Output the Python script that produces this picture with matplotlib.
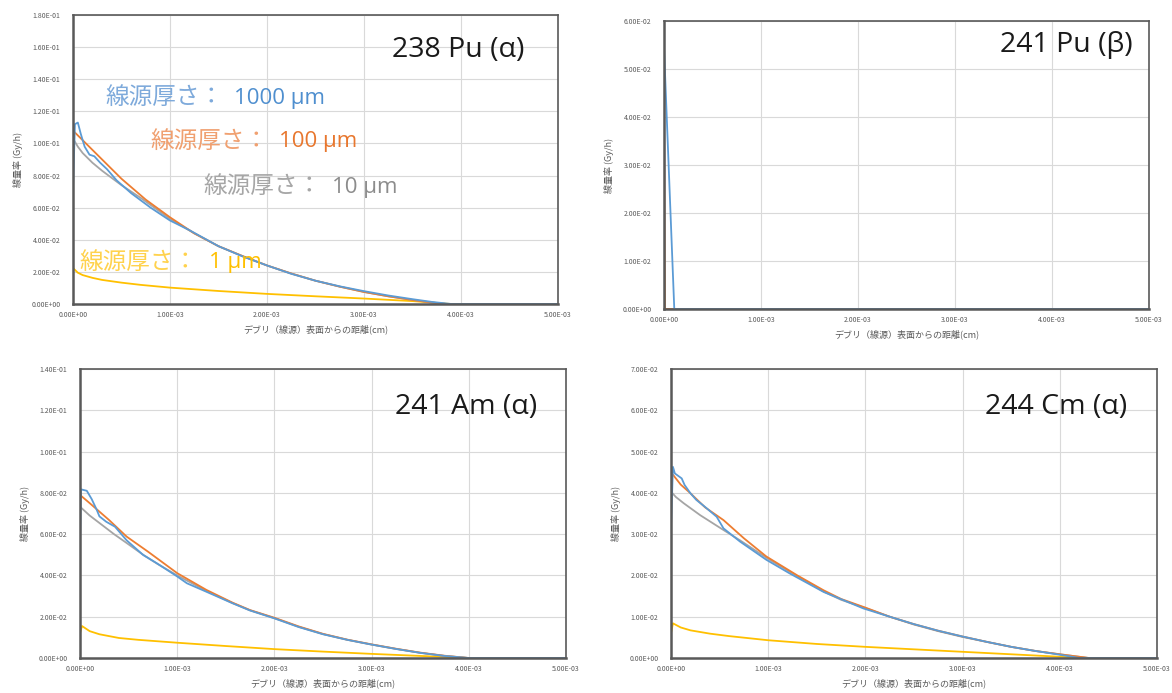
import matplotlib
matplotlib.use("Agg")
import matplotlib.pyplot as plt
from matplotlib.ticker import FuncFormatter, MultipleLocator

plt.rcParams['font.family'] = ['Noto Sans CJK JP', 'DejaVu Sans']

# ---- data: dose rate (Gy/h) vs distance from debris surface (cm) ----
# 238 Pu (alpha)
pu238_x_1000 = [0, 0.00002, 0.00005, 0.00008, 0.00012, 0.00017, 0.00022, 0.00028, 0.00035, 0.00045,
                0.0006, 0.0008, 0.001, 0.0012, 0.0015, 0.00175, 0.002, 0.00225, 0.0025, 0.00275,
                0.003, 0.00325, 0.0035, 0.0037, 0.0039, 0.005]
pu238_y_1000 = [0.072, 0.112, 0.113, 0.106, 0.098, 0.093, 0.092, 0.088, 0.084, 0.077,
                0.069, 0.060, 0.052, 0.046, 0.036, 0.0296, 0.024, 0.0188, 0.0145, 0.0110,
                0.0080, 0.0053, 0.0030, 0.0013, 0.0, 0.0]
pu238_x_100 = [0, 0.0001, 0.0002, 0.0003, 0.0005, 0.00075, 0.001, 0.00125, 0.0015, 0.00175,
               0.002, 0.00225, 0.0025, 0.00275, 0.003, 0.00325, 0.0035, 0.0037, 0.00385, 0.005]
pu238_y_100 = [0.108, 0.102, 0.096, 0.090, 0.078, 0.065, 0.054, 0.044, 0.036, 0.0298,
               0.024, 0.019, 0.0145, 0.0108, 0.0075, 0.0048, 0.0025, 0.0009, 0.0, 0.0]
pu238_x_10 = [0, 0.00005, 0.0001, 0.0002, 0.0003, 0.0005, 0.0007, 0.001, 0.00125, 0.0015,
              0.00175, 0.002, 0.00225, 0.0025, 0.00275, 0.003, 0.00325, 0.0035, 0.0037, 0.00385, 0.005]
pu238_y_10 = [0.103, 0.098, 0.094, 0.088, 0.083, 0.074, 0.066, 0.053, 0.044, 0.036,
              0.0298, 0.024, 0.019, 0.0145, 0.0108, 0.0075, 0.0048, 0.0025, 0.0009, 0.0, 0.0]
pu238_x_1 = [0, 0.00005, 0.0001, 0.0002, 0.0003, 0.0005, 0.0007, 0.001, 0.0015, 0.002,
             0.0025, 0.003, 0.0035, 0.0039, 0.005]
pu238_y_1 = [0.0224, 0.0195, 0.0180, 0.0163, 0.0150, 0.0133, 0.0119, 0.0102, 0.0081, 0.0063,
             0.0048, 0.0034, 0.0018, 0.0, 0.0]

# 241 Pu (beta)
pu241_x_1000 = [0, 0.000106, 0.005]
pu241_y_1000 = [0.0545, 0.0, 0.0]
pu241_x_100 = [0, 0.000008, 0.005]
pu241_y_100 = [0.047, 0.0, 0.0]
pu241_x_10 = [0, 0.000008, 0.005]
pu241_y_10 = [0.044, 0.0, 0.0]
pu241_x_1 = [0, 0.000008, 0.005]
pu241_y_1 = [0.010, 0.0, 0.0]

# 241 Am (alpha)
am241_x_1000 = [0, 0.00001, 0.00007, 0.00012, 0.00017, 0.0002, 0.00027, 0.00036, 0.00048, 0.00065,
                0.00079, 0.001, 0.0011, 0.0013, 0.00157, 0.00175, 0.002, 0.00225, 0.0025, 0.00275,
                0.003, 0.00325, 0.0035, 0.00375, 0.004, 0.005]
am241_y_1000 = [0.055, 0.0817, 0.081, 0.077, 0.072, 0.0686, 0.066, 0.0636, 0.057, 0.0499,
                0.0459, 0.0395, 0.0362, 0.0321, 0.0265, 0.0230, 0.0192, 0.0150, 0.0115, 0.0088,
                0.0065, 0.0044, 0.0025, 0.0010, 0.0, 0.0]
am241_x_100 = [0, 0.0001, 0.0002, 0.0003, 0.00048, 0.0007, 0.001, 0.0013, 0.00157, 0.00175,
               0.002, 0.00225, 0.0025, 0.00275, 0.003, 0.00325, 0.0035, 0.00375, 0.004, 0.005]
am241_y_100 = [0.079, 0.075, 0.0709, 0.0668, 0.0588, 0.0515, 0.0411, 0.0330, 0.0268, 0.0232,
               0.0195, 0.0153, 0.0117, 0.0089, 0.0066, 0.0045, 0.0026, 0.0011, 0.0, 0.0]
am241_x_10 = [0, 0.0001, 0.0002, 0.00035, 0.00048, 0.00065, 0.0008, 0.001, 0.0013, 0.00157,
              0.00175, 0.002, 0.00225, 0.0025, 0.00275, 0.003, 0.00325, 0.0035, 0.00375, 0.004, 0.005]
am241_y_10 = [0.0733, 0.069, 0.0654, 0.060, 0.0557, 0.050, 0.0455, 0.0400, 0.0325, 0.0266,
              0.0231, 0.0193, 0.0151, 0.0116, 0.0088, 0.0065, 0.0044, 0.0025, 0.0010, 0.0, 0.0]
am241_x_1 = [0, 0.00002, 0.0001, 0.0002, 0.0004, 0.0006, 0.001, 0.0015, 0.002, 0.0025,
             0.003, 0.0035, 0.004, 0.005]
am241_y_1 = [0.012, 0.0155, 0.0130, 0.0115, 0.0097, 0.0088, 0.0074, 0.0058, 0.0043, 0.0031,
             0.0020, 0.0010, 0.0, 0.0]

# 244 Cm (alpha)
cm244_x_1000 = [0, 0.00002, 0.00004, 0.00011, 0.00014, 0.0002, 0.00026, 0.00035, 0.00047, 0.00054,
                0.00071, 0.00098, 0.00122, 0.00157, 0.00198, 0.00225, 0.0025, 0.00275, 0.003, 0.00325,
                0.0035, 0.00375, 0.004, 0.0042, 0.005]
cm244_y_1000 = [0.0318, 0.0463, 0.0447, 0.0435, 0.0419, 0.0399, 0.0383, 0.0366, 0.0342, 0.0314,
                0.0282, 0.0238, 0.0205, 0.0160, 0.0120, 0.0100, 0.0082, 0.0066, 0.0052, 0.0039,
                0.0027, 0.0017, 0.0008, 0.0, 0.0]
cm244_x_100 = [0, 0.0001, 0.0002, 0.00035, 0.00054, 0.00075, 0.00098, 0.0013, 0.00157, 0.00175,
               0.002, 0.00225, 0.0025, 0.00275, 0.003, 0.00325, 0.0035, 0.00375, 0.004, 0.0042,
               0.0043, 0.005]
cm244_y_100 = [0.045, 0.042, 0.0399, 0.0365, 0.0334, 0.029, 0.0246, 0.0200, 0.0164, 0.0143,
               0.0122, 0.0100, 0.0082, 0.0066, 0.0052, 0.0039, 0.0027, 0.0017, 0.0009, 0.0003,
               0.0, 0.0]
cm244_x_10 = [0, 0.00005, 0.00013, 0.0003, 0.00054, 0.00071, 0.001, 0.0013, 0.00157, 0.00175,
              0.002, 0.00225, 0.0025, 0.00275, 0.003, 0.00325, 0.0035, 0.00375, 0.004, 0.0042,
              0.0043, 0.005]
cm244_y_10 = [0.0403, 0.0390, 0.0375, 0.0346, 0.0310, 0.0285, 0.0240, 0.0198, 0.0161, 0.0141,
              0.0121, 0.0100, 0.0081, 0.0065, 0.0051, 0.0039, 0.0027, 0.0017, 0.0009, 0.0003,
              0.0, 0.0]
cm244_x_1 = [0, 0.00002, 0.0001, 0.0002, 0.0004, 0.0006, 0.001, 0.0015, 0.002, 0.0025,
             0.003, 0.0035, 0.004, 0.0043, 0.005]
cm244_y_1 = [0.006, 0.0084, 0.0074, 0.0067, 0.0059, 0.0053, 0.0043, 0.0034, 0.0027, 0.0021,
             0.0015, 0.0009, 0.0003, 0.0, 0.0]

panel_titles = ['238 Pu (\u03b1)', '241 Pu (\u03b2)', '241 Am (\u03b1)', '244 Cm (\u03b1)']
panel_ymax = [0.18, 0.06, 0.14, 0.07]
panel_ystep = [0.02, 0.01, 0.02, 0.01]
thickness_labels = ['1000 \u03bcm', '100 \u03bcm', '10 \u03bcm', '1 \u03bcm']
x_label = 'デブリ（線源）表面からの距離(cm)'
y_label = '線量率 (Gy/h)'

# ---- styling ----
C_BLUE, C_ORANGE, C_GRAY, C_YELLOW = '#5b9bd5', '#ed7d31', '#a5a5a5', '#ffc000'
AX_COLOR = '#595959'
GRID_COLOR = '#d9d9d9'

W, H = 1172, 693
fig = plt.figure(figsize=(W / 100, H / 100), dpi=100)

# axes boxes in pixels: left, top, right, bottom
boxes = [(73, 15, 558, 304), (664, 21, 1149, 309), (80, 369, 566, 658), (671, 369, 1157, 658)]
title_pos = [(0.93, 0.88), (0.967, 0.917), (0.94, 0.87), (0.938, 0.87)]

series = [
    [(pu238_x_1, pu238_y_1), (pu238_x_10, pu238_y_10), (pu238_x_100, pu238_y_100), (pu238_x_1000, pu238_y_1000)],
    [(pu241_x_1, pu241_y_1), (pu241_x_10, pu241_y_10), (pu241_x_100, pu241_y_100), (pu241_x_1000, pu241_y_1000)],
    [(am241_x_1, am241_y_1), (am241_x_10, am241_y_10), (am241_x_100, am241_y_100), (am241_x_1000, am241_y_1000)],
    [(cm244_x_1, cm244_y_1), (cm244_x_10, cm244_y_10), (cm244_x_100, cm244_y_100), (cm244_x_1000, cm244_y_1000)],
]
series_colors = [C_YELLOW, C_GRAY, C_ORANGE, C_BLUE]

sci = FuncFormatter(lambda v, pos: f"{v:.2E}")

axes = []
for i, (l, t, r, b) in enumerate(boxes):
    ax = fig.add_axes([l / W, 1 - b / H, (r - l) / W, (b - t) / H])
    axes.append(ax)
    for (xs, ys), c in zip(series[i], series_colors):
        ax.plot(xs, ys, color=c, lw=1.3, solid_joinstyle='round')
    ax.set_xlim(0, 0.005)
    ax.set_ylim(0, panel_ymax[i])
    ax.xaxis.set_major_locator(MultipleLocator(0.001))
    ax.yaxis.set_major_locator(MultipleLocator(panel_ystep[i]))
    ax.xaxis.set_major_formatter(sci)
    ax.yaxis.set_major_formatter(sci)
    ax.grid(True, color=GRID_COLOR, lw=0.8)
    ax.set_axisbelow(True)
    ax.tick_params(length=0, labelsize=5, labelcolor=AX_COLOR, pad=5)
    ax.tick_params(axis='y', pad=9)
    for s in ax.spines.values():
        s.set_color(AX_COLOR)
        s.set_linewidth(1.2)
    ax.spines['left'].set_linewidth(1.8)
    ax.spines['bottom'].set_linewidth(1.8)
    ax.set_xlabel(x_label, fontsize=6.5, color=AX_COLOR, labelpad=4)
    ax.set_ylabel(y_label, fontsize=6.5, color=AX_COLOR, labelpad=6)
    tx, ty = title_pos[i]
    ax.text(tx, ty, panel_titles[i], transform=ax.transAxes, ha='right', va='center',
            fontsize=20.5, color='#1a1a1a', family=['Open Sans', 'DejaVu Sans'])

# thickness annotations on the 238 Pu panel
ax0 = axes[0]
note_pos = [(0.066, 0.713), (0.159, 0.564), (0.268, 0.405), (0.014, 0.145)]
note_colors = [('#7eaadb', '#4f8fcf'), ('#f0a070', '#e8772e'), ('#a6a6a6', '#8c8c8c'), ('#ffd24d', '#ffc000')]
for (nx, ny), (c1, c2), lab in zip(note_pos, note_colors, thickness_labels):
    head = ax0.text(nx, ny, '線源厚さ：', transform=ax0.transAxes, ha='left', va='center',
                    fontsize=17, color=c1)
    ax0.annotate(lab, xy=(1.0, 0.47), xycoords=head, xytext=(8, 0), textcoords='offset points',
                 ha='left', va='center', fontsize=16, color=c2, family=['Open Sans', 'DejaVu Sans'])

fig.savefig('out.png', dpi=100)
